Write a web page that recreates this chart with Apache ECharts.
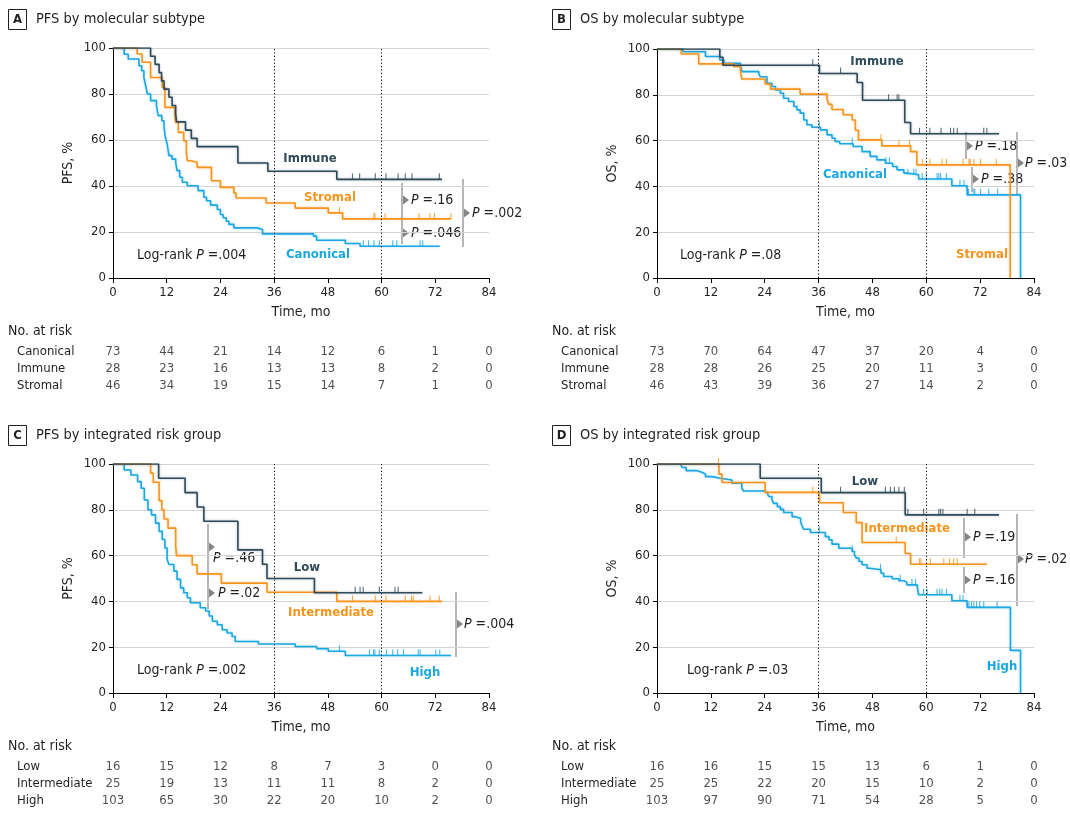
<!DOCTYPE html>
<html><head><meta charset="utf-8">
<script src="https://cdn.jsdelivr.net/npm/echarts@6/dist/echarts.min.js"></script>
<style>html,body{margin:0;padding:0;background:#fff}#c{width:1070px;height:818px}</style>
</head><body><div id="c"></div><script>
// ---------- shared ----------
const timeTicks = [0, 12, 24, 36, 48, 60, 72, 84];
const landmarkMonths = [36, 60];

// ---------- Panel A: PFS by molecular subtype ----------
const A_canonical_t = [2.5, 3.4, 5.8, 6.4, 6.9, 7.3, 7.7, 8.4, 9.7, 10.1, 10.9, 11.4, 11.7, 12.1, 12.5, 13.2, 14.0, 14.3, 14.9, 15.5, 16.6, 19.0, 20.3, 20.9, 21.8, 23.3, 24.0, 24.6, 25.3, 25.9, 27.0, 32.2, 33.4, 44.8, 45.5, 51.9, 55.2];
const A_canonical_s = [97.3, 95.2, 92.3, 90.1, 87.2, 83.6, 80.0, 77.1, 74.9, 70.6, 68.4, 65.5, 61.2, 58.3, 53.2, 51.7, 50.3, 46.7, 43.8, 41.6, 40.1, 38.0, 35.1, 33.6, 31.7, 29.8, 27.6, 26.2, 24.7, 23.3, 21.8, 21.1, 19.2, 18.2, 16.4, 15.0, 13.8];
const A_canonical_cens = [55.9, 57.1, 58.3, 59.5, 62.5, 63.4, 68.6, 69.2];
const A_canonical_end = 73.0;
const A_immune_t = [8.4, 9.4, 10.3, 10.85, 11.4, 12.5, 13.2, 14.0, 14.2, 16.2, 17.5, 18.8, 27.9, 34.6, 50.0];
const A_immune_s = [96.4, 92.9, 89.3, 85.7, 82.1, 78.6, 75.0, 71.4, 67.9, 64.3, 60.7, 57.1, 50.0, 46.4, 42.9];
const A_immune_cens = [53.5, 55.1, 58.6, 61.0, 63.7, 65.3, 66.8, 72.9];
const A_immune_end = 73.5;
const A_stromal_t = [5.4, 6.5, 8.4, 11.0, 11.6, 13.8, 14.0, 14.6, 15.8, 16.4, 16.6, 17.3, 18.8, 22.0, 24.0, 27.0, 27.5, 34.2, 40.7, 48.1, 51.3];
const A_stromal_s = [97.4, 93.8, 87.2, 82.9, 74.2, 71.3, 67.7, 63.3, 59.7, 54.6, 51.0, 50.3, 48.1, 42.3, 39.4, 37.0, 34.8, 32.6, 30.4, 28.3, 25.7];
const A_stromal_cens = [50.6, 58.3, 58.5, 60.8, 68.4, 70.8, 71.8, 75.5];
const A_stromal_end = 75.5;
const A_riskGroups = ['Canonical', 'Immune', 'Stromal'];
const A_risk_canonical = [73, 44, 21, 14, 12, 6, 1, 0];
const A_risk_immune = [28, 23, 16, 13, 13, 8, 2, 0];
const A_risk_stromal = [46, 34, 19, 15, 14, 7, 1, 0];

// ---------- Panel B: OS by molecular subtype ----------
const B_canonical_t = [5.8, 10.8, 14.0, 14.9, 18.6, 19.0, 22.7, 23.0, 24.5, 25.6, 26.4, 27.5, 28.2, 29.3, 30.5, 31.2, 31.9, 32.7, 33.4, 34.5, 36.4, 37.9, 39.0, 39.7, 40.7, 43.7, 45.7, 47.5, 49.0, 50.9, 52.5, 53.5, 55.0, 55.7, 58.3, 65.7, 69.1, 81.0];
const B_canonical_s = [98.8, 96.7, 95.2, 93.8, 92.3, 90.1, 89.0, 87.9, 85.0, 83.6, 82.1, 80.7, 78.5, 77.1, 74.9, 73.4, 72.0, 69.0, 66.9, 65.8, 64.7, 62.5, 61.0, 59.6, 58.6, 57.4, 55.2, 53.1, 51.6, 50.1, 48.7, 47.2, 45.8, 45.1, 43.2, 40.3, 36.3, 0];
const B_canonical_cens = [36.2, 43.5, 51.0, 51.8, 55.9, 57.2, 57.7, 59.1, 60.0, 62.4, 62.8, 63.2, 64.5, 67.5, 68.4, 69.2, 69.4, 70.6, 70.8, 72.1, 73.9, 75.9];
const B_canonical_end = 81.0;
const B_immune_t = [14.0, 14.7, 36.2, 44.6, 45.8, 55.2, 56.5];
const B_immune_s = [96.4, 92.9, 89.3, 85.4, 77.6, 67.9, 63.0];
const B_immune_cens = [34.7, 40.9, 51.6, 53.5, 53.9, 58.5, 60.8, 63.3, 65.4, 66.1, 66.9, 72.8, 73.5];
const B_immune_end = 76.2;
const B_stromal_t = [5.4, 9.3, 17.1, 18.6, 18.9, 24.1, 25.3, 31.9, 37.9, 38.3, 39.0, 41.5, 43.5, 44.2, 44.9, 50.1, 56.5, 57.9, 78.7];
const B_stromal_s = [97.8, 93.5, 92.4, 90.2, 86.9, 84.7, 82.5, 80.3, 78.0, 75.8, 73.6, 71.3, 69.0, 64.5, 60.3, 57.7, 55.2, 49.4, 0];
const B_stromal_cens = [49.9, 53.9, 56.3, 59.1, 60.8, 63.5, 64.5, 68.2, 69.5, 69.8, 70.6, 72.1, 75.6];
const B_stromal_end = 78.7;
const B_riskGroups = ['Canonical', 'Immune', 'Stromal'];
const B_risk_canonical = [73, 70, 64, 47, 37, 20, 4, 0];
const B_risk_immune = [28, 28, 26, 25, 20, 11, 3, 0];
const B_risk_stromal = [46, 43, 39, 36, 27, 14, 2, 0];

// ---------- Panel C: PFS by integrated risk group ----------
const C_high_t = [2.5, 4.0, 5.5, 6.3, 7.0, 7.8, 8.6, 9.5, 10.3, 11.0, 11.6, 12.1, 12.5, 13.6, 14.3, 15.1, 15.8, 16.6, 17.3, 19.5, 20.7, 21.5, 22.2, 23.3, 24.4, 25.5, 26.6, 27.3, 32.5, 40.7, 45.5, 48.1, 51.9];
const C_high_s = [97.4, 95.2, 92.3, 89.4, 84.3, 80.0, 77.8, 74.2, 70.6, 67.0, 63.3, 58.3, 56.1, 53.2, 49.6, 45.9, 43.8, 41.6, 39.4, 37.2, 35.8, 33.6, 31.3, 29.8, 27.6, 26.2, 24.7, 22.5, 21.4, 20.3, 19.3, 18.2, 16.4];
const C_high_cens = [50.6, 57.3, 58.2, 58.5, 59.5, 61.1, 62.5, 63.6, 64.9, 68.2, 68.6, 72.1, 73.0];
const C_high_end = 75.5;
const C_low_t = [10.2, 16.1, 18.8, 20.3, 27.9, 33.4, 34.4, 45.0];
const C_low_s = [93.75, 87.5, 81.25, 75.0, 62.5, 56.25, 50.0, 43.75];
const C_low_cens = [54.1, 55.2, 55.9, 59.5, 63.0, 63.7];
const C_low_end = 69.1;
const C_inter_t = [8.4, 9.0, 10.3, 10.9, 11.4, 12.3, 14.0, 14.2, 17.7, 18.8, 24.2, 34.4, 50.0];
const C_inter_s = [96, 92, 84, 80, 76, 72, 64, 60, 56, 52, 48, 44, 40];
const C_inter_cens = [53.5, 58.6, 61.0, 65.3, 66.7, 67.1, 70.8, 72.9];
const C_inter_end = 73.5;
const C_riskGroups = ['Low', 'Intermediate', 'High'];
const C_risk_low = [16, 15, 12, 8, 7, 3, 0, 0];
const C_risk_inter = [25, 19, 13, 11, 11, 8, 2, 0];
const C_risk_high = [103, 65, 30, 22, 20, 10, 2, 0];

// ---------- Panel D: OS by integrated risk group ----------
const D_high_t = [5.2, 5.6, 6.5, 8.9, 10.0, 10.8, 12.3, 14.1, 16.7, 18.9, 19.3, 23.8, 24.5, 24.9, 25.6, 26.0, 26.8, 27.5, 28.2, 30.1, 30.8, 32.0, 32.3, 32.7, 34.2, 37.5, 38.3, 39.0, 40.5, 43.5, 44.0, 44.4, 45.0, 45.7, 46.8, 47.4, 49.9, 50.5, 52.4, 53.9, 55.0, 55.7, 58.0, 58.3, 65.7, 69.1, 78.75, 81.0];
const D_high_s = [99.3, 98.5, 97.1, 96.4, 95.6, 94.5, 93.8, 93.0, 91.6, 89.4, 88.2, 87.6, 86.9, 85.8, 84.6, 82.8, 81.4, 80.2, 78.8, 77.0, 76.3, 74.9, 73.0, 71.5, 70.1, 68.3, 66.9, 65.0, 63.2, 61.8, 60.3, 58.9, 57.4, 56.0, 54.5, 53.8, 52.3, 50.9, 49.9, 49.0, 48.3, 47.2, 46.2, 42.9, 40.3, 37.4, 18.6, 0];
const D_high_cens = [36.2, 43.5, 49.8, 54.2, 56.8, 57.6, 59.4, 60.2, 62.4, 63.0, 63.5, 64.5, 67.5, 68.2, 69.5, 70.1, 70.6, 71.2, 71.9, 72.8, 75.8];
const D_high_end = 81.0;
const D_low_t = [23.0, 36.6, 55.3];
const D_low_s = [93.75, 87.5, 77.8];
const D_low_cens = [40.9, 50.9, 52.0, 52.9, 53.9, 55.1, 55.9, 59.4, 62.8, 63.2, 63.7, 69.1, 70.8];
const D_low_end = 76.2;
const D_inter_t = [13.8, 14.5, 24.1, 36.2, 41.5, 44.4, 45.7, 55.3, 56.5];
const D_inter_s = [95.6, 91.9, 87.6, 83.1, 78.8, 74.4, 65.7, 60.9, 56.25];
const D_inter_cens = [13.7, 34.7, 53.3, 58.5, 58.8, 60.9, 63.9, 65.2, 66.1, 66.9];
const D_inter_end = 73.5;
const D_riskGroups = ['Low', 'Intermediate', 'High'];
const D_risk_low = [16, 16, 15, 15, 13, 6, 1, 0];
const D_risk_inter = [25, 25, 22, 20, 15, 10, 2, 0];
const D_risk_high = [103, 97, 90, 71, 54, 28, 5, 0];

// ---------- styling ----------
const FONT = "'DejaVu Sans Condensed','Roboto',sans-serif";
const TXT = '#231f20';
const C_DARK = '#2f4a58', C_ORANGE = '#f7941d', C_CYAN = '#1ba7e3';

function curveData(t, s, end) {
  const d = [[0, 100]];
  t.forEach((x, i) => d.push([x, s[i]]));
  const last = d[d.length - 1];
  if (end > last[0]) d.push([end, last[1]]);
  return d;
}
function survAt(t, s, x) {
  let v = 100;
  for (let i = 0; i < t.length; i++) if (t[i] <= x) v = s[i];
  return v;
}

const panels = [
  { letter: 'A', title: 'PFS by molecular subtype', yName: 'PFS, %',
    grid: { left: 113, top: 48, width: 376, height: 230 }, tableTop: 343.5, tx: 8, ty: 9,
    groups: A_riskGroups, risk: [A_risk_canonical, A_risk_immune, A_risk_stromal],
    curves: [
      { t: A_canonical_t, s: A_canonical_s, c: A_canonical_cens, e: A_canonical_end, color: C_CYAN },
      { t: A_stromal_t, s: A_stromal_s, c: A_stromal_cens, e: A_stromal_end, color: C_ORANGE },
      { t: A_immune_t, s: A_immune_s, c: A_immune_cens, e: A_immune_end, color: C_DARK } ] },
  { letter: 'B', title: 'OS by molecular subtype', yName: 'OS, %',
    grid: { left: 657, top: 49, width: 377, height: 229 }, tableTop: 343.5, tx: 552, ty: 9,
    groups: B_riskGroups, risk: [B_risk_canonical, B_risk_immune, B_risk_stromal],
    curves: [
      { t: B_canonical_t, s: B_canonical_s, c: B_canonical_cens, e: B_canonical_end, color: C_CYAN },
      { t: B_stromal_t, s: B_stromal_s, c: B_stromal_cens, e: B_stromal_end, color: C_ORANGE },
      { t: B_immune_t, s: B_immune_s, c: B_immune_cens, e: B_immune_end, color: C_DARK } ] },
  { letter: 'C', title: 'PFS by integrated risk group', yName: 'PFS, %',
    grid: { left: 113, top: 464, width: 376, height: 229 }, tableTop: 758.5, tx: 8, ty: 425,
    groups: C_riskGroups, risk: [C_risk_low, C_risk_inter, C_risk_high],
    curves: [
      { t: C_high_t, s: C_high_s, c: C_high_cens, e: C_high_end, color: C_CYAN },
      { t: C_inter_t, s: C_inter_s, c: C_inter_cens, e: C_inter_end, color: C_ORANGE },
      { t: C_low_t, s: C_low_s, c: C_low_cens, e: C_low_end, color: C_DARK } ] },
  { letter: 'D', title: 'OS by integrated risk group', yName: 'OS, %',
    grid: { left: 657, top: 464, width: 377, height: 229 }, tableTop: 758.5, tx: 552, ty: 425,
    groups: D_riskGroups, risk: [D_risk_low, D_risk_inter, D_risk_high],
    curves: [
      { t: D_high_t, s: D_high_s, c: D_high_cens, e: D_high_end, color: C_CYAN },
      { t: D_inter_t, s: D_inter_s, c: D_inter_cens, e: D_inter_end, color: C_ORANGE },
      { t: D_low_t, s: D_low_s, c: D_low_cens, e: D_low_end, color: C_DARK } ] }
];

const grids = [], xAxes = [], yAxes = [], series = [], graphics = [];
panels.forEach((p, pi) => {
  const gi = pi * 2, ti = pi * 2 + 1;
  grids.push(Object.assign({}, p.grid));
  grids.push({ left: p.grid.left, width: p.grid.width, top: p.tableTop, height: 51 });
  xAxes.push({
    gridIndex: gi, type: 'value', min: 0, max: 84, interval: 12,
    name: 'Time, mo', nameLocation: 'middle', nameGap: 27,
    nameTextStyle: { fontFamily: FONT, fontSize: 14, color: TXT },
    axisLine: { lineStyle: { color: '#000', width: 1 } },
    axisTick: { length: 5, lineStyle: { color: '#000' } },
    axisLabel: { fontFamily: FONT, fontSize: 13, color: TXT, margin: 8 },
    splitLine: { show: false }
  });
  xAxes.push({ gridIndex: ti, type: 'value', min: 0, max: 84, show: false });
  yAxes.push({
    gridIndex: gi, type: 'value', min: 0, max: 100, interval: 20,
    name: p.yName, nameLocation: 'middle', nameGap: 38, nameRotate: 90, nameMoveOverlap: false,
    nameTextStyle: { fontFamily: FONT, fontSize: 14, color: TXT },
    axisLine: { show: true, lineStyle: { color: '#000', width: 1 } },
    axisTick: { show: true, length: 4, lineStyle: { color: '#000' } },
    axisLabel: { fontFamily: FONT, fontSize: 13, color: TXT, margin: 7 },
    splitLine: { show: true, lineStyle: { color: '#d4d4d4', width: 1 } }
  });
  yAxes.push({
    gridIndex: ti, type: 'category', data: p.groups, inverse: true,
    axisLine: { show: false }, axisTick: { show: false }, splitLine: { show: false },
    axisLabel: { align: 'left', margin: 96, fontFamily: FONT, fontSize: 13, color: TXT }
  });
  p.curves.forEach((cv, ci) => {
    const s = {
      type: 'line', xAxisIndex: gi, yAxisIndex: gi, step: 'end', symbol: 'none',
      data: curveData(cv.t, cv.s, cv.e), z: 3 + ci, silent: true, animation: false,
      lineStyle: { color: cv.color, width: 1.6, shadowColor: cv.color + '66', shadowBlur: 2.5 }
    };
    if (ci === 0) {
      s.markLine = {
        silent: true, symbol: 'none', label: { show: false }, animation: false,
        lineStyle: { type: [1.2, 2.2], color: '#000', width: 1 },
        data: landmarkMonths.map(m => ({ xAxis: m }))
      };
    }
    series.push(s);
    series.push({
      type: 'scatter', xAxisIndex: gi, yAxisIndex: gi, silent: true, animation: false,
      symbol: 'rect', symbolSize: [1.1, 6], symbolOffset: [0, -3], z: 3 + ci,
      itemStyle: { color: cv.color },
      data: cv.c.map(x => [x, survAt(cv.t, cv.s, x)])
    });
  });
  const tableData = [];
  p.risk.forEach((row, r) => row.forEach((v, k) => tableData.push([timeTicks[k], r, v])));
  series.push({
    type: 'scatter', xAxisIndex: ti, yAxisIndex: ti, silent: true, animation: false,
    symbolSize: 1, itemStyle: { color: 'rgba(0,0,0,0)' },
    label: { show: true, position: 'inside', formatter: q => q.value[2],
             fontFamily: FONT, fontSize: 13, color: TXT },
    data: tableData
  });
  // title
  graphics.push({ type: 'rect', shape: { x: p.tx + 0.5, y: p.ty + 0.5, width: 18, height: 20 },
    style: { fill: 'none', stroke: TXT, lineWidth: 1 } });
  graphics.push({ type: 'text', x: p.tx + 9.5, y: p.ty + 10.5,
    style: { text: p.letter, font: `bold 13px ${FONT}`, fill: TXT, textAlign: 'center', textVerticalAlign: 'middle' } });
  graphics.push({ type: 'text', x: p.tx + 28, y: p.ty + 10.5,
    style: { text: p.title, font: `14.5px ${FONT}`, fill: TXT, textAlign: 'left', textVerticalAlign: 'middle' } });
  graphics.push({ type: 'text', x: p.tx, y: p.tableTop - 12.5,
    style: { text: 'No. at risk', font: `14px ${FONT}`, fill: TXT, textAlign: 'left', textVerticalAlign: 'middle' } });
});

// curve labels and annotations (pixel layout)
function lbl(x, y, text, color, align) {
  graphics.push({ type: 'text', x, y, style: { text, font: `600 13px ${FONT}`, fill: color,
    textAlign: align || 'center', textVerticalAlign: 'middle' } });
}
function plain(x, y, text) {
  graphics.push({ type: 'text', x, y, style: { text, rich: { i: { fontStyle: 'italic', fontFamily: FONT, fontSize: 14, fill: TXT } },
    font: `14px ${FONT}`, fill: TXT, textAlign: 'left', textVerticalAlign: 'middle' } });
}
function bracket(x, y1, y2) {
  graphics.push({ type: 'line', shape: { x1: x, y1, x2: x, y2 }, style: { stroke: '#858585', lineWidth: 1.2 } });
}
function tri(x, y) {
  graphics.push({ type: 'polygon', shape: { points: [[x, y - 4.5], [x + 6, y], [x, y + 4.5]] }, style: { fill: '#858585' } });
}
function pval(x, y, v) { plain(x, y, '{i|P} =' + v); }

// A
lbl(310, 159, 'Immune', C_DARK); lbl(330, 198, 'Stromal', C_ORANGE); lbl(318, 255, 'Canonical', C_CYAN);
plain(137, 255, 'Log-rank {i|P} =.004');
bracket(402, 183, 244); tri(403, 200); pval(411, 200, '.16'); tri(403, 233); pval(411, 233, '.046');
bracket(463, 179, 247); tri(464, 213); pval(472, 213, '.002');
// B
lbl(877, 62, 'Immune', C_DARK); lbl(855, 175, 'Canonical', C_CYAN); lbl(982, 255, 'Stromal', C_ORANGE);
plain(680, 255, 'Log-rank {i|P} =.08');
bracket(966, 132, 159); tri(967, 146); pval(975, 146, '.18');
bracket(972, 167, 192); tri(973, 179); pval(981, 179, '.38');
bracket(1017, 132, 195); tri(1018, 163); pval(1025, 163, '.03');
// C
lbl(307, 568, 'Low', C_DARK); lbl(331, 613, 'Intermediate', C_ORANGE); lbl(425, 673, 'High', C_CYAN);
plain(137, 670, 'Log-rank {i|P} =.002');
bracket(208, 524, 609); tri(209, 547); pval(213, 558, '.46'); tri(209, 593); pval(218, 593, '.02');
bracket(456, 592, 657); tri(457, 624); pval(464, 624, '.004');
// D
lbl(865, 482, 'Low', C_DARK); lbl(907, 529, 'Intermediate', C_ORANGE); lbl(1002, 667, 'High', C_CYAN);
plain(687, 670, 'Log-rank {i|P} =.03');
bracket(964, 518, 558); tri(965, 537); pval(973, 537, '.19');
bracket(964, 567, 593); tri(965, 580); pval(973, 580, '.16');
bracket(1017, 514, 606); tri(1018, 559); pval(1025, 559, '.02');

const chart = echarts.init(document.getElementById('c'), null, { renderer: 'canvas' });
chart.setOption({
  animation: false, backgroundColor: '#fff',
  grid: grids, xAxis: xAxes, yAxis: yAxes, series,
  graphic: { elements: graphics }
});
</script></body></html>
